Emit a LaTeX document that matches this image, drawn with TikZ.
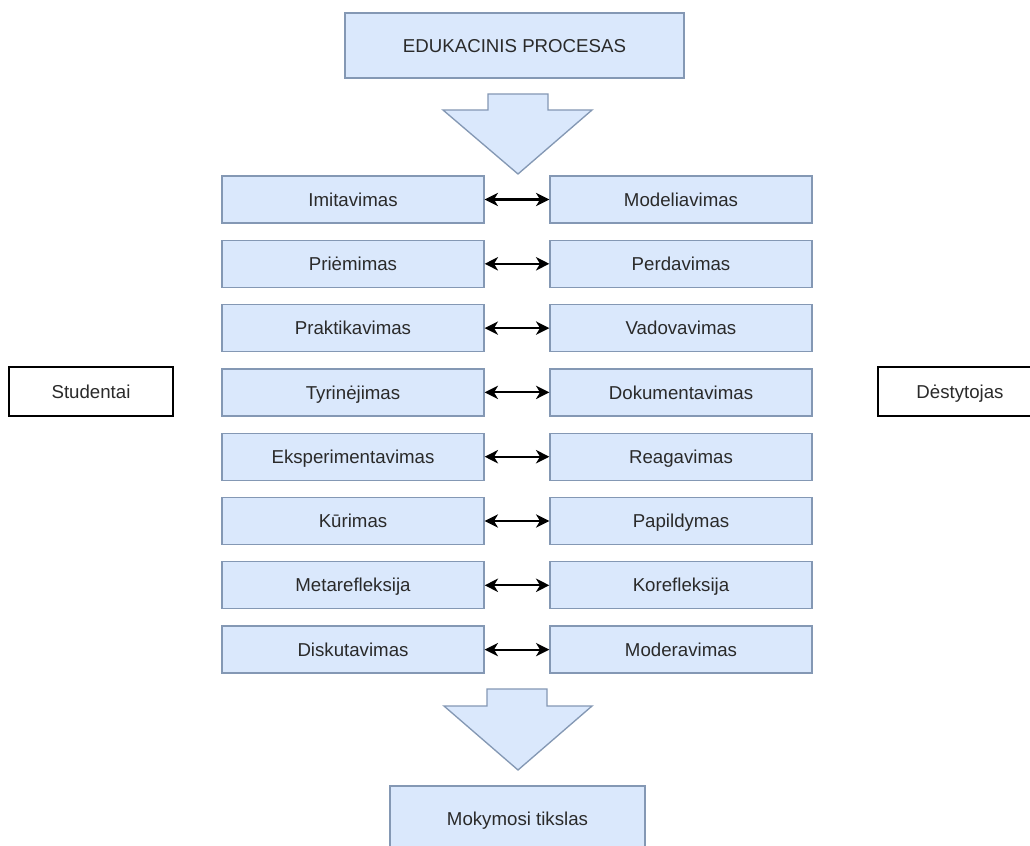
\documentclass[tikz,border=0pt]{standalone}
\usepackage{fontspec}
\setmainfont{Liberation Sans}
\usetikzlibrary{arrows.meta}
\definecolor{boxfill}{HTML}{DAE8FC}
\definecolor{boxline}{HTML}{8498B4}
\definecolor{txt}{HTML}{2A2A2A}
\tikzset{
  pbox/.style={draw=boxline, fill=boxfill, line width=1pt, text=txt,
    minimum width=262*0.75pt, minimum height=47*0.75pt, inner sep=0pt,
    text height=10pt, text depth=0pt,
    font=\fontsize{14}{16}\selectfont},
  bigbox/.style={pbox, minimum height=65*0.75pt},
  rolebox/.style={draw=black, fill=white, line width=1pt, text=txt,
    minimum width=164*0.75pt, minimum height=49*0.75pt, inner sep=0pt,
    text height=10pt, text depth=0pt,
    font=\fontsize{14}{16}\selectfont},
  link/.style={line width=1.6pt,
    {Stealth[length=10pt,width=10pt,inset=3pt]}-{Stealth[length=10pt,width=10pt,inset=3pt]}},
  blockarrow/.style={draw=boxline, fill=boxfill, line width=1pt, line join=miter}
}
\begin{document}
\begin{tikzpicture}[x=0.75pt, y=-0.75pt]
\clip (0,0) rectangle (1030,845);
\fill[white] (0,0) rectangle (1030,845);

% title and goal
\node[bigbox, minimum width=339*0.75pt] (top) at (514.5,45.5) {EDUKACINIS PROCESAS};
\node[bigbox, minimum width=255*0.75pt] (goal) at (517.5,818.5) {Mokymosi tikslas};

% block arrows
\coordinate (ta) at (518,94);
\draw[blockarrow] (ta) ++(-30,0) -- ++(60,0) -- ++(0,16) -- ++(44,0)
  -- (518,174) -- (443,110) -- ++(45,0) -- cycle;
\coordinate (ba) at (517,689);
\draw[blockarrow] (ba) ++(-30,0) -- ++(60,0) -- ++(0,17) -- ++(45,0)
  -- (518,770) -- (444,706) -- ++(43,0) -- cycle;

% paired activities
\foreach \i/\l/\r in {0/Imitavimas/Modeliavimas, 1/Priėmimas/Perdavimas,
    2/Praktikavimas/Vadovavimas, 3/Tyrinėjimas/Dokumentavimas,
    4/Eksperimentavimas/Reagavimas, 5/Kūrimas/Papildymas,
    6/Metarefleksija/Korefleksija, 7/Diskutavimas/Moderavimas}{
  \node[pbox] (L\i) at (353,199.5+64.3*\i) {\l};
  \node[pbox] (R\i) at (681,199.5+64.3*\i) {\r};
  \draw[link] (L\i.east) -- (R\i.west);
}

% participants
\node[rolebox] (stud) at (91,391.5) {Studentai};
\node[rolebox] (dest) at (960,391.5) {Dėstytojas};
\end{tikzpicture}
\end{document}
